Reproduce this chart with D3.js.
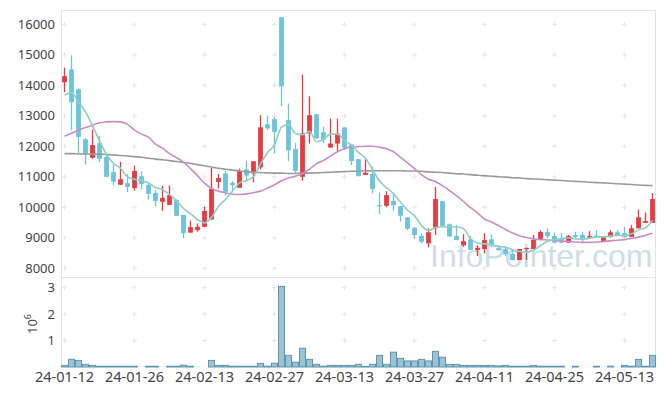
<!DOCTYPE html>
<html>
<head>
<meta charset="utf-8">
<title>Candlestick chart</title>
<script src="https://cdn.jsdelivr.net/npm/d3@7"></script>
<style>
  body { margin: 0; background: #fff; }
  text { font-family: "Noto Sans", "Open Sans", sans-serif; fill: #444; }
</style>
</head>
<body>
<div id="container"></div>
<script>
// trading days shown on the chart
const dates = [
  "24-01-12","24-01-15","24-01-16","24-01-17","24-01-18","24-01-19","24-01-22","24-01-23","24-01-24","24-01-25",
  "24-01-26","24-01-29","24-01-30","24-01-31","24-02-01","24-02-02","24-02-05","24-02-06","24-02-07","24-02-08",
  "24-02-13","24-02-14","24-02-15","24-02-16","24-02-19","24-02-20","24-02-21","24-02-22","24-02-23","24-02-26",
  "24-02-27","24-02-28","24-02-29","24-03-04","24-03-05","24-03-06","24-03-07","24-03-08","24-03-11","24-03-12",
  "24-03-13","24-03-14","24-03-15","24-03-18","24-03-19","24-03-20","24-03-21","24-03-22","24-03-25","24-03-26",
  "24-03-27","24-03-28","24-03-29","24-04-01","24-04-02","24-04-03","24-04-04","24-04-05","24-04-08","24-04-09",
  "24-04-11","24-04-12","24-04-15","24-04-16","24-04-17","24-04-18","24-04-19","24-04-22","24-04-23","24-04-24",
  "24-04-25","24-04-26","24-04-29","24-04-30","24-05-02","24-05-03","24-05-07","24-05-08","24-05-09","24-05-10",
  "24-05-13","24-05-14","24-05-16","24-05-17","24-05-20"
];

const open = [
  14100,14520,13870,12230,11620,12100,11650,11150,10740,10790,
  10630,11020,10740,10470,10180,10080,10240,9750,9170,9250,
  9360,9600,10830,11110,10800,10640,11240,11110,11310,12720,
  12890,16230,12860,11910,11000,12420,13050,12460,11960,12090,
  12620,12060,11580,11060,11090,10070,10050,10210,10040,9670,
  9330,9060,8820,9310,10200,9440,9060,8760,8950,8600,
  8630,8950,8660,8630,8470,8270,8630,8630,8930,9190,
  9060,8980,8840,9090,9100,9000,9070,8860,9030,9180,
  9150,9030,9310,9490,9490
];
const high = [
  14580,14980,13900,12270,12550,12330,11740,11400,11490,11090,
  11370,11180,10830,10560,10700,10720,10260,9750,9560,9470,
  10020,11290,11090,11190,10860,11270,11520,11510,13020,13010,
  12960,16230,13400,12110,14350,13640,13050,12640,12910,12900,
  12620,12060,11580,11570,11330,10480,10530,10480,10040,9680,
  9360,9150,9310,10670,10200,9470,9420,9120,9060,8760,
  9150,9110,8690,8730,8630,8630,8690,9090,9250,9310,
  9170,9150,9090,9200,9200,9220,9250,9030,9250,9250,
  9360,9420,9930,9830,10460
];
const low = [
  13770,12530,11770,11400,11590,11480,10990,10720,10730,10500,
  10540,10590,10250,10030,9880,10070,9720,8980,9170,9200,
  9360,9600,10620,10380,10560,10640,10890,10820,11240,12530,
  11760,13320,11520,11110,10870,12090,12240,12110,11960,11820,
  11870,11380,11020,11060,10450,9780,10000,9890,9530,9250,
  8980,8820,8690,9090,9390,9040,8930,8710,8600,8400,
  8490,8710,8570,8400,8270,8270,8270,8630,8930,8980,
  8820,8820,8840,8950,8870,9000,9010,8860,9010,9060,
  9010,9030,9310,9490,9490
];
const close = [
  14300,13450,12310,11740,12040,11590,11000,10840,10920,10670,
  11190,10760,10440,10210,10310,10400,9720,9150,9350,9360,
  9880,10610,10960,10510,10730,11190,11040,11510,12620,12590,
  12470,13970,11870,11190,12420,13020,12270,12220,12090,12420,
  11950,11520,11020,11130,10600,10040,10400,10070,9720,9300,
  9090,8870,9180,10270,9390,9040,8930,8890,8600,8670,
  8930,8790,8600,8460,8270,8630,8670,8930,9190,9060,
  8840,8840,9060,9030,8980,9060,9030,9030,9180,9090,
  9030,9310,9670,9550,10270
];
const volume = [
  60000,290000,250000,100000,60000,30000,30000,30000,30000,30000,
  30000,5000,30000,30000,5000,30000,30000,70000,30000,5000,
  5000,250000,60000,60000,30000,30000,30000,30000,140000,30000,
  140000,3050000,440000,180000,710000,290000,100000,30000,60000,60000,
  60000,60000,100000,20000,100000,440000,100000,560000,330000,230000,
  230000,290000,230000,590000,370000,100000,100000,60000,60000,60000,
  60000,60000,40000,60000,30000,30000,30000,60000,30000,30000,
  30000,30000,5000,30000,5000,5000,30000,5000,30000,5000,
  60000,30000,290000,30000,440000
];

// moving averages as drawn (short / middle / long)
const ma5 = [
  13680,13760,13450,13130,12680,12180,11730,11440,11280,11000,
  10920,10870,10800,10650,10580,10420,10220,9960,9790,9600,
  9490,9670,10030,10260,10530,10800,10880,11000,11420,11790,
  12050,12630,12710,12420,12380,12490,12150,12220,12400,12400,
  12190,12040,11800,11610,11240,10860,10640,10450,10170,9910,
  9720,9410,9230,9340,9360,9350,9360,9300,8970,8830,
  8800,8780,8720,8690,8610,8550,8530,8590,8740,8890,
  8940,8970,9000,8970,8950,8990,9030,9030,9060,9080,
  9070,9130,9260,9330,9570
];
const ma20 = [
  12330,12430,12530,12620,12690,12770,12800,12810,12800,12720,
  12530,12400,12300,12070,11940,11760,11630,11480,11270,11040,
  10790,10620,10530,10480,10430,10420,10440,10480,10530,10630,
  10740,10870,10960,11020,11100,11250,11430,11540,11680,11820,
  11920,11980,11990,12000,12000,11970,11920,11820,11640,11460,
  11270,11070,10920,10840,10710,10550,10380,10190,9990,9820,
  9610,9520,9400,9270,9160,9070,9010,8960,8940,8930,
  8910,8890,8880,8860,8850,8850,8860,8880,8900,8920,
  8940,8980,9020,9080,9150
];
const ma120 = [
  11760,11760,11750,11750,11750,11740,11730,11720,11700,11680,
  11660,11640,11610,11580,11560,11530,11500,11470,11440,11400,
  11360,11320,11280,11250,11220,11190,11170,11150,11140,11130,
  11120,11120,11110,11110,11120,11120,11130,11140,11150,11160,
  11170,11180,11190,11190,11200,11200,11200,11200,11200,11190,
  11190,11180,11160,11150,11140,11120,11100,11090,11070,11050,
  11040,11020,11000,10990,10970,10960,10940,10930,10920,10900,
  10890,10880,10860,10850,10840,10820,10810,10800,10790,10770,
  10760,10750,10730,10720,10710
];

const priceTicks = [8000, 9000, 10000, 11000, 12000, 13000, 14000, 15000, 16000];
const volumeTicks = [1000000, 2000000, 3000000];

const W = 665, H = 396;
const left = 61, right = 656;
const priceTop = 10, panelSplit = 277, volBottom = 367;

const svg = d3.select("#container")
  .append("svg")
  .attr("width", W)
  .attr("height", H);

const x = d3.scaleBand().domain(dates).range([left, right]).padding(0);
const bw = x.bandwidth();
const cx = d => x(d) + bw / 2;

const y = d3.scaleLinear().domain([8000, 16000]).range([268.3, 24.3]);
const yv = d3.scaleLinear().domain([0, 3000000]).range([volBottom, 287.7]);

const labelDates = dates.filter((d, i) => i % 10 === 0);

// grid crosses
const crossPts = [];
labelDates.forEach(d => {
  priceTicks.forEach(p => crossPts.push([cx(d), y(p)]));
  volumeTicks.forEach(v => crossPts.push([cx(d), yv(v)]));
});
svg.append("g")
  .selectAll("path")
  .data(crossPts)
  .join("path")
  .attr("d", d => `M${d[0] - 2.5},${d[1]}H${d[0] + 2.5}M${d[0]},${d[1] - 2.5}V${d[1] + 2.5}`)
  .attr("stroke", "#e6e6e6")
  .attr("stroke-width", 1);

// frame
svg.append("path")
  .attr("d", `M${left + 0.5},${volBottom}V${priceTop + 0.5}H${right - 0.5}V${volBottom}`)
  .attr("fill", "none")
  .attr("stroke", "#e3e3e3");
svg.append("line")
  .attr("x1", left).attr("x2", right)
  .attr("y1", panelSplit + 0.5).attr("y2", panelSplit + 0.5)
  .attr("stroke", "#e3e3e3");

// watermark
svg.append("text")
  .attr("x", 430)
  .attr("y", 267)
  .style("font-family", "'Liberation Sans', Arial, sans-serif")
  .style("font-size", "32px")
  .style("fill", "#c4d9e4")
  .style("opacity", 0.85)
  .text("InfoPointer.com");

svg.append("clipPath").attr("id", "priceClip")
  .append("rect")
  .attr("x", left).attr("y", priceTop)
  .attr("width", right - left).attr("height", panelSplit - priceTop);

const price = svg.append("g").attr("clip-path", "url(#priceClip)");

const upColor = "#ea3a41", downColor = "#6cc3dc";
const idx = d3.range(dates.length);
const col = i => close[i] >= open[i] ? upColor : downColor;

// wicks
price.append("g")
  .selectAll("line")
  .data(idx)
  .join("line")
  .attr("x1", i => cx(dates[i]))
  .attr("x2", i => cx(dates[i]))
  .attr("y1", i => y(high[i]))
  .attr("y2", i => y(low[i]))
  .attr("stroke", col)
  .attr("stroke-width", 1.3);

// bodies
const bodyW = 4.8;
price.append("g")
  .selectAll("rect")
  .data(idx)
  .join("rect")
  .attr("x", i => cx(dates[i]) - bodyW / 2)
  .attr("y", i => y(Math.max(open[i], close[i])))
  .attr("width", bodyW)
  .attr("height", i => Math.max(1.2, Math.abs(y(open[i]) - y(close[i]))))
  .attr("fill", col);

// moving averages
const maLine = d3.line()
  .x((d, i) => cx(dates[i]))
  .y(d => y(d))
  .curve(d3.curveMonotoneX);

[[ma120, "#9a9a9a"], [ma20, "#c98dc6"], [ma5, "#8ecfc0"]].forEach(([s, c]) => {
  price.append("path")
    .datum(s)
    .attr("d", maLine)
    .attr("fill", "none")
    .attr("stroke", c)
    .attr("stroke-width", 1.6);
});

// volume bars
svg.append("g")
  .selectAll("rect")
  .data(idx)
  .join("rect")
  .attr("x", i => x(dates[i]) + 0.5)
  .attr("y", i => yv(volume[i]))
  .attr("width", bw - 1)
  .attr("height", i => yv(0) - yv(volume[i]))
  .attr("fill", "#9cc2d4")
  .attr("stroke", i => yv(0) - yv(volume[i]) < 0.5 ? "none" : "#5f96b0")
  .attr("stroke-width", 1);

// axes
const yAxis = svg.append("g")
  .attr("transform", `translate(${left},0)`)
  .call(d3.axisLeft(y).tickValues(priceTicks).tickFormat(d3.format("d")).tickSize(0).tickPadding(6));
yAxis.select(".domain").remove();
yAxis.selectAll("text").style("font-size", "13px").style("fill", "#444");

const vAxis = svg.append("g")
  .attr("transform", `translate(${left},0)`)
  .call(d3.axisLeft(yv).tickValues(volumeTicks).tickFormat(d => d / 1e6).tickSize(0).tickPadding(6));
vAxis.select(".domain").remove();
vAxis.selectAll("text").style("font-size", "13px").style("fill", "#444");

const xAxis = svg.append("g")
  .attr("transform", `translate(0,${volBottom})`)
  .call(d3.axisBottom(x).tickValues(labelDates).tickSize(0).tickPadding(5));
xAxis.select(".domain").remove();
xAxis.selectAll("text").style("font-size", "14.5px").style("fill", "#444");

// volume unit label
const unit = svg.append("text")
  .attr("transform", `translate(37,${(panelSplit + volBottom) / 2 + 2}) rotate(-90)`)
  .attr("text-anchor", "middle")
  .style("font-size", "13px");
unit.append("tspan").text("10");
unit.append("tspan").attr("dy", -6).style("font-size", "9px").text("6");
</script>
</body>
</html>
